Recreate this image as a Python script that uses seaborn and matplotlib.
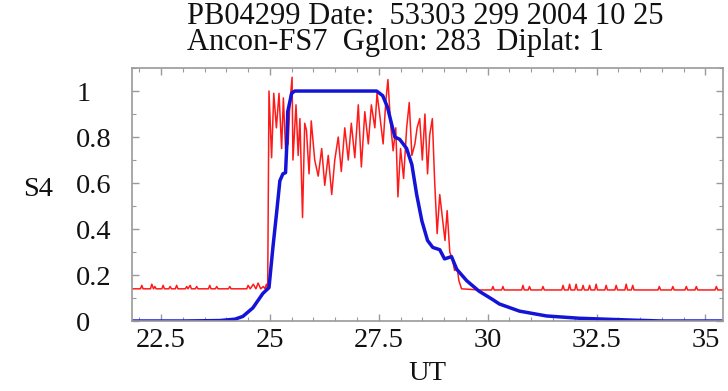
import numpy as np
import pandas as pd
import matplotlib
matplotlib.use("Agg")
import matplotlib.pyplot as plt
import seaborn as sns
from matplotlib.ticker import MultipleLocator

# Title text
title_lines = ["PB04299 Date:  53303 299 2004 10 25",
               "Ancon-FS7  Gglon: 283  Diplat: 1"]

# Blue: model S4 (smooth)
blue_t = [21.83, 23.0, 23.85, 24.2, 24.38, 24.61, 24.84, 24.98, 25.07, 25.16, 25.23,
          25.30, 25.36, 25.39, 25.41, 25.50, 25.57, 26.5, 27.45, 27.59, 27.70, 27.79,
          27.87, 27.98, 28.14, 28.26, 28.37, 28.49, 28.62, 28.74, 28.90, 29.01, 29.17,
          29.29, 29.52, 29.80, 30.10, 30.27, 30.73, 31.35, 32.10, 33.30, 34.0, 35.4]
blue_v = [0.0, 0.0, 0.002, 0.008, 0.02, 0.057, 0.12, 0.145, 0.32, 0.48, 0.61,
          0.64, 0.645, 0.77, 0.91, 0.99, 1.0, 1.0, 1.0, 0.98, 0.93, 0.86,
          0.80, 0.79, 0.75, 0.68, 0.55, 0.435, 0.35, 0.32, 0.31, 0.27, 0.28,
          0.225, 0.175, 0.13, 0.095, 0.074, 0.043, 0.022, 0.012, 0.004, 0.0, 0.0]

# Red: measured S4 (noisy)
red_t = [21.83, 22.03, 22.06, 22.09, 22.26, 22.29, 22.33, 22.36, 22.39, 22.52, 22.55,
         22.58, 22.68, 22.71, 22.74, 22.83, 22.86, 22.89, 23.06, 23.09, 23.12, 23.17,
         23.20, 23.29, 23.32, 23.35, 23.59, 23.62, 23.65, 23.75, 23.78, 23.81, 24.05,
         24.08, 24.11, 24.47, 24.50, 24.55, 24.62, 24.68, 24.73, 24.79, 24.85, 24.89,
         24.92, 24.95,
         24.98, 25.04, 25.09, 25.15, 25.21, 25.27, 25.31, 25.36, 25.42, 25.46, 25.51,
         25.53, 25.60, 25.65, 25.69, 25.75, 25.80, 25.84, 25.90, 25.95, 26.03, 26.11,
         26.19, 26.26, 26.34, 26.42, 26.49, 26.57, 26.64, 26.72, 26.80, 26.87, 26.95,
         27.03, 27.10, 27.18, 27.26, 27.33, 27.41, 27.46, 27.52, 27.60, 27.66, 27.71,
         27.77, 27.83, 27.89, 27.94, 28.00, 28.07, 28.14, 28.20, 28.26, 28.33, 28.38,
         28.44, 28.50, 28.56, 28.62, 28.67, 28.73, 28.78, 28.84, 28.90, 28.96, 29.02,
         29.07, 29.13, 29.19, 29.24, 29.30, 29.34, 29.40,
         29.80, 30.09, 30.12, 30.15, 30.32, 30.35, 30.38, 30.78, 30.81, 30.84, 30.93,
         30.96, 30.99, 31.24, 31.27, 31.30, 31.70, 31.73, 31.76, 31.85, 31.88, 31.91,
         32.00, 32.03, 32.06, 32.16, 32.19, 32.22, 32.31, 32.34, 32.37, 32.46, 32.49,
         32.52, 32.69, 32.72, 32.75, 32.92, 32.95, 32.98, 33.15, 33.18, 33.21, 33.30,
         33.33, 33.36, 33.91, 33.94, 33.97, 34.22, 34.25, 34.28, 34.53, 34.56, 34.59,
         34.76, 34.79, 34.82, 35.22, 35.25, 35.28, 35.4]
red_v = [0.14, 0.14, 0.155, 0.14, 0.14, 0.16, 0.14, 0.15, 0.14, 0.14, 0.155,
         0.14, 0.14, 0.15, 0.14, 0.14, 0.155, 0.14, 0.14, 0.15, 0.14, 0.155,
         0.14, 0.14, 0.15, 0.14, 0.14, 0.155, 0.14, 0.14, 0.15, 0.14, 0.14,
         0.15, 0.14, 0.14, 0.155, 0.14, 0.16, 0.14, 0.165, 0.14, 0.15, 0.14,
         0.16, 0.14,
         1.0, 0.71, 0.99, 0.84, 0.99, 0.75, 0.97, 0.75, 0.77, 0.95, 1.06,
         0.70, 0.94, 0.72, 0.88, 0.45, 0.86, 0.83, 0.64, 0.87, 0.70, 0.63,
         0.75, 0.59, 0.72, 0.55, 0.70, 0.80, 0.65, 0.84, 0.70, 0.86, 0.71,
         0.94, 0.67, 0.91, 0.77, 0.94, 0.84, 0.99, 0.90, 0.77, 0.95, 1.05,
         0.86, 0.74, 0.84, 0.54, 0.75, 0.62, 0.84, 0.95, 0.72, 0.77, 0.84,
         0.88, 0.70, 0.90, 0.64, 0.81, 0.88, 0.62, 0.38, 0.55, 0.45, 0.35,
         0.48, 0.30, 0.27, 0.22, 0.23, 0.175, 0.14,
         0.135, 0.135, 0.15, 0.135, 0.135, 0.15, 0.135, 0.135, 0.155, 0.135, 0.135,
         0.15, 0.135, 0.135, 0.15, 0.135, 0.135, 0.155, 0.135, 0.135, 0.16, 0.135,
         0.135, 0.16, 0.135, 0.135, 0.155, 0.135, 0.135, 0.155, 0.135, 0.135, 0.16,
         0.135, 0.135, 0.155, 0.135, 0.135, 0.155, 0.135, 0.135, 0.16, 0.135, 0.135,
         0.155, 0.135, 0.135, 0.15, 0.135, 0.135, 0.15, 0.135, 0.135, 0.15, 0.135,
         0.135, 0.15, 0.135, 0.135, 0.15, 0.135, 0.135]

x_ticks = [22.5, 25, 27.5, 30, 32.5, 35]
x_tick_labels = ["22.5", "25", "27.5", "30", "32.5", "35"]
y_ticks = [0, 0.2, 0.4, 0.6, 0.8, 1]
y_tick_labels = ["0", "0.2", "0.4", "0.6", "0.8", "1"]

sns.set_style("ticks")
plt.rcParams['font.family'] = ['Liberation Serif', 'DejaVu Serif']

fig = plt.figure(figsize=(7.28, 3.91), dpi=100)
ax = fig.add_axes([0.181, 0.179, 0.812, 0.647])

red_df = pd.DataFrame({'UT': red_t, 'S4': red_v})
blue_df = pd.DataFrame({'UT': blue_t, 'S4': blue_v})
sns.lineplot(data=red_df, x='UT', y='S4', estimator=None, sort=False,
             color='#ff1a1a', linewidth=1.1, ax=ax)
sns.lineplot(data=blue_df, x='UT', y='S4', estimator=None, sort=False,
             color='#1414d8', linewidth=2.5, ax=ax)

ax.set_xlim(21.83, 35.4)
ax.set_ylim(0, 1.1)
ax.set_xticks(x_ticks)
ax.set_xticklabels(x_tick_labels)
ax.set_yticks(y_ticks)
ax.set_yticklabels(y_tick_labels, ha='left')
ax.xaxis.set_minor_locator(MultipleLocator(0.5))
ax.yaxis.set_minor_locator(MultipleLocator(0.1))

frame_col = '#9a9a9a'
for sp in ax.spines.values():
    sp.set_visible(True)
    sp.set_color(frame_col)
    sp.set_linewidth(1.2)
ax.tick_params(which='both', direction='in', top=True, right=True,
               color=frame_col, labelsize=20.5, labelcolor='#111111')
ax.tick_params(which='major', length=5, width=1)
ax.tick_params(which='minor', length=3, width=0.8)
ax.tick_params(axis='y', pad=40)
ax.tick_params(axis='x', pad=5)

ax.set_xlabel("UT", fontsize=20.5, color='#111111', labelpad=6)
ax.set_ylabel("S4", fontsize=20.5, color='#111111', rotation=0, va='center', ha='center')
ax.yaxis.set_label_coords(-0.158, 0.518)

# two title lines, left-aligned on a common edge
fig.text(0.257, 0.939, title_lines[0], ha='left', va='baseline', fontsize=22, color='#111111')
fig.text(0.257, 0.872, title_lines[1], ha='left', va='baseline', fontsize=22, color='#111111')

fig.savefig("out.png", dpi=100)
